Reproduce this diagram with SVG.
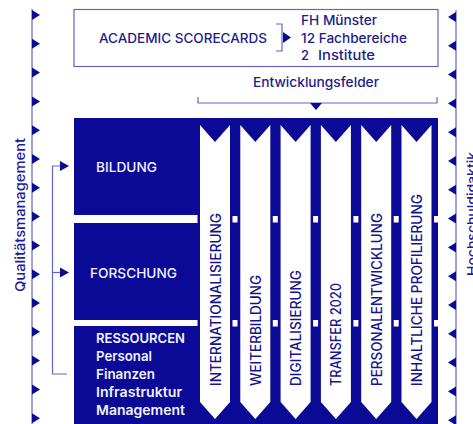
<svg xmlns="http://www.w3.org/2000/svg" width="473" height="424" viewBox="0 0 473 424">
<style>
  .ln{fill:none;stroke:#6464cc;stroke-width:1.2}
  .dk{fill:#0a0a96}
  .wt{fill:#ffffff}
  .tri{fill:#0a0a96}
  .t{font-family:Inter,Lato,"Liberation Sans",sans-serif;font-size:13px;fill:#1c1c8c;font-weight:500}
  .side{font-family:Inter,Lato,"Liberation Sans",sans-serif;font-size:13.5px;fill:#1c1c9c;font-weight:500}
  .box{font-family:Inter,Lato,"Liberation Sans",sans-serif;font-size:13.5px;fill:#f2f2ff;font-weight:500}
  .boxb{font-family:Inter,Lato,"Liberation Sans",sans-serif;font-size:13.5px;fill:#f2f2ff;font-weight:600}
  .col{font-family:Inter,Lato,"Liberation Sans",sans-serif;font-size:14px;fill:#14148e;font-weight:500}
</style>
<defs>
  <polygon id="triR" points="0,-5 8,0 0,5"/>
  <polygon id="triL" points="0,-5 -8,0 0,5"/>
</defs>

<!-- side rails -->
<g id="qm">
  <line class="ln" x1="32" y1="9" x2="32" y2="424"/>
  <g class="tri">
    <use href="#triR" x="32" y="15"/><use href="#triR" x="32" y="43.8"/><use href="#triR" x="32" y="72.6"/>
    <use href="#triR" x="32" y="101.4"/><use href="#triR" x="32" y="130.2"/><use href="#triR" x="32" y="159"/>
    <use href="#triR" x="32" y="187.8"/><use href="#triR" x="32" y="216.6"/><use href="#triR" x="32" y="245.4"/>
    <use href="#triR" x="32" y="274.2"/><use href="#triR" x="32" y="303"/><use href="#triR" x="32" y="331.8"/>
    <use href="#triR" x="32" y="360.6"/><use href="#triR" x="32" y="389.4"/><use href="#triR" x="32" y="418.2"/>
  </g>
  <text class="side" transform="translate(25,292) rotate(-90)" textLength="154" lengthAdjust="spacingAndGlyphs">Qualitätsmanagement</text>
</g>
<g id="hd">
  <line class="ln" x1="456" y1="10" x2="456" y2="424"/>
  <g class="tri">
    <use href="#triL" x="456" y="17"/><use href="#triL" x="456" y="45.8"/><use href="#triL" x="456" y="74.6"/>
    <use href="#triL" x="456" y="103.4"/><use href="#triL" x="456" y="132.2"/><use href="#triL" x="456" y="161"/>
    <use href="#triL" x="456" y="189.8"/><use href="#triL" x="456" y="218.6"/><use href="#triL" x="456" y="247.4"/>
    <use href="#triL" x="456" y="276.2"/><use href="#triL" x="456" y="305"/><use href="#triL" x="456" y="333.8"/>
    <use href="#triL" x="456" y="362.6"/><use href="#triL" x="456" y="391.4"/><use href="#triL" x="456" y="420.2"/>
  </g>
  <text class="side" transform="translate(476.5,276) rotate(-90)" textLength="124" lengthAdjust="spacingAndGlyphs">Hochschuldidaktik</text>
</g>

<!-- top box -->
<g id="scorecards">
  <rect class="ln" x="74" y="9.5" width="364" height="57"/>
  <text class="t" x="99" y="43" textLength="168" lengthAdjust="spacingAndGlyphs">ACADEMIC SCORECARDS</text>
  <polyline class="ln" points="276,24 282,24 282,51 276,51"/>
  <polygon class="tri" points="283,32 291,37.5 283,43"/>
  <text class="t" x="301" y="25" textLength="76" lengthAdjust="spacingAndGlyphs">FH Münster</text>
  <text class="t" x="301" y="43" textLength="106" lengthAdjust="spacingAndGlyphs">12 Fachbereiche</text>
  <text class="t" y="60"><tspan x="301">2</tspan> <tspan x="318" textLength="57" lengthAdjust="spacingAndGlyphs">Institute</tspan></text>
</g>

<g id="entwicklungsfelder">
  <text class="t" x="253" y="87" textLength="126" lengthAdjust="spacingAndGlyphs">Entwicklungsfelder</text>
  <polyline class="ln" points="198,97 198,103 437,103 437,97"/>
  <polygon class="tri" points="310,103 322,103 316,110"/>
</g>

<!-- main dark block -->
<g id="block">
  <rect class="dk" x="74" y="118" width="364" height="306"/>
  <rect class="wt" x="74" y="215" width="123.5" height="8"/>
  <rect class="wt" x="74" y="320" width="123.5" height="6"/>
  <g class="wt">
    <rect x="232.5" y="216" width="5" height="6.5"/><rect x="272.8" y="216" width="5" height="6.5"/>
    <rect x="313.1" y="216" width="5" height="6.5"/><rect x="353.4" y="216" width="5" height="6.5"/>
    <rect x="393.7" y="216" width="5" height="6.5"/><rect x="434" y="216" width="4" height="6.5"/>
    <rect x="232.5" y="320" width="5" height="6.5"/><rect x="272.8" y="320" width="5" height="6.5"/>
    <rect x="313.1" y="320" width="5" height="6.5"/><rect x="353.4" y="320" width="5" height="6.5"/>
    <rect x="393.7" y="320" width="5" height="6.5"/><rect x="434" y="320" width="4" height="6.5"/>
  </g>
</g>

<g id="bildung">
  <text class="box" x="96" y="172" textLength="61" lengthAdjust="spacingAndGlyphs">BILDUNG</text>
</g>
<g id="forschung">
  <text class="box" x="90" y="278" textLength="87" lengthAdjust="spacingAndGlyphs">FORSCHUNG</text>
</g>
<g id="ressourcen">
  <text class="boxb" x="96" y="343" textLength="89" lengthAdjust="spacingAndGlyphs">RESSOURCEN</text>
  <text class="boxb" x="96" y="361" textLength="56" lengthAdjust="spacingAndGlyphs">Personal</text>
  <text class="boxb" x="96" y="379" textLength="59" lengthAdjust="spacingAndGlyphs">Finanzen</text>
  <text class="boxb" x="96" y="397" textLength="86" lengthAdjust="spacingAndGlyphs">Infrastruktur</text>
  <text class="boxb" x="96" y="415" textLength="89" lengthAdjust="spacingAndGlyphs">Management</text>
</g>

<!-- columns -->
<g id="col1">
  <polygon class="wt" points="200,125 215,142 230,125 230,402 215,419 200,402"/>
  <text class="col" transform="translate(220.5,386) rotate(-90)" textLength="173" lengthAdjust="spacingAndGlyphs">INTERNATIONALISIERUNG</text>
</g>
<g id="col2">
  <polygon class="wt" points="240.3,125 255.3,142 270.3,125 270.3,402 255.3,419 240.3,402"/>
  <text class="col" transform="translate(260.8,386) rotate(-90)" textLength="111" lengthAdjust="spacingAndGlyphs">WEITERBILDUNG</text>
</g>
<g id="col3">
  <polygon class="wt" points="280.6,125 295.6,142 310.6,125 310.6,402 295.6,419 280.6,402"/>
  <text class="col" transform="translate(301.1,386) rotate(-90)" textLength="116" lengthAdjust="spacingAndGlyphs">DIGITALISIERUNG</text>
</g>
<g id="col4">
  <polygon class="wt" points="320.9,125 335.9,142 350.9,125 350.9,402 335.9,419 320.9,402"/>
  <text class="col" transform="translate(341.4,386) rotate(-90)" textLength="103" lengthAdjust="spacingAndGlyphs">TRANSFER 2020</text>
</g>
<g id="col5">
  <polygon class="wt" points="361.2,125 376.2,142 391.2,125 391.2,402 376.2,419 361.2,402"/>
  <text class="col" transform="translate(381.7,386) rotate(-90)" textLength="173" lengthAdjust="spacingAndGlyphs">PERSONALENTWICKLUNG</text>
</g>
<g id="col6">
  <polygon class="wt" points="401.5,125 416.5,142 431.5,125 431.5,402 416.5,419 401.5,402"/>
  <text class="col" transform="translate(422,386) rotate(-90)" textLength="192" lengthAdjust="spacingAndGlyphs">INHALTLICHE PROFILIERUNG</text>
</g>

<!-- connectors -->
<g id="connectors">
  <polyline class="ln" points="67,374 52.5,374 52.5,166 61,166"/>
  <line class="ln" x1="52.5" y1="272.5" x2="61" y2="272.5"/>
  <polygon class="tri" points="60,161 69,166 60,171"/>
  <polygon class="tri" points="60,267.5 69,272.5 60,277.5"/>
</g>
</svg>
